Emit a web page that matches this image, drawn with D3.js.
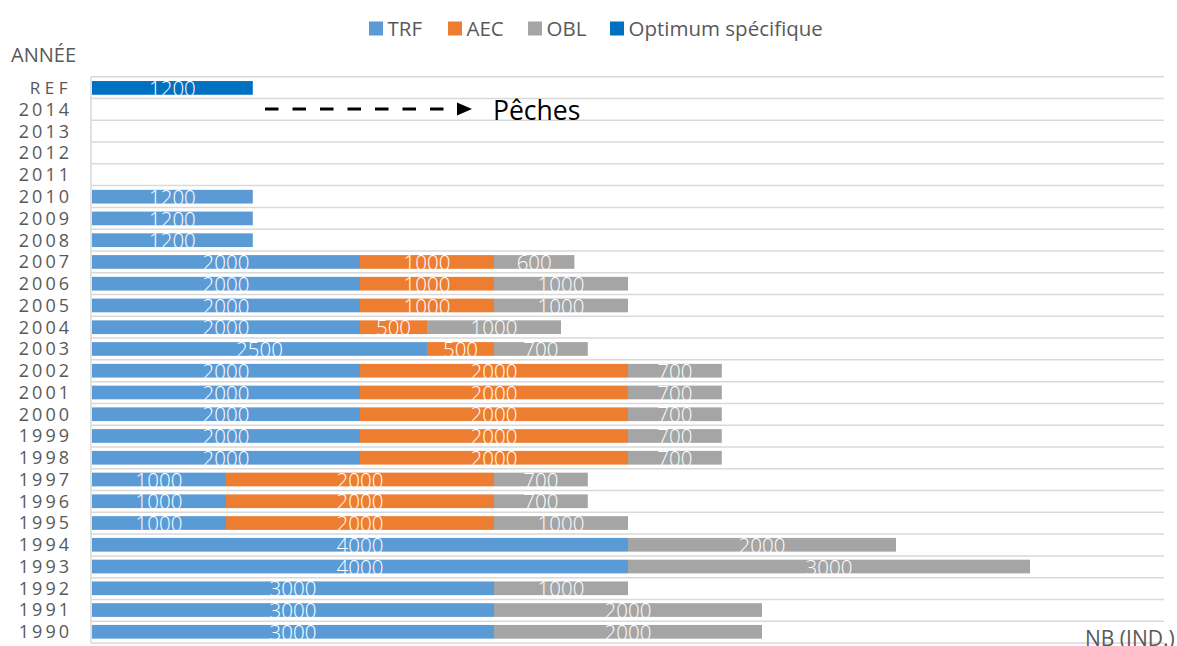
<!DOCTYPE html>
<html>
<head>
<meta charset="utf-8">
<script src="https://cdn.jsdelivr.net/npm/d3@7"></script>
<style>
  body { margin: 0; background: #fff; }
  svg text { font-family: 'Open Sans', 'Noto Sans', sans-serif; }
</style>
</head>
<body>
<div class="chart"></div>
<script>
// categories from top to bottom
var years = ['REF', '2014', '2013', '2012', '2011', '2010', '2009', '2008', '2007', '2006',
    '2005', '2004', '2003', '2002', '2001', '2000', '1999', '1998', '1997', '1996',
    '1995', '1994', '1993', '1992', '1991', '1990'];
// series values, same order as years
var trf = [0, 0, 0, 0, 0, 1200, 1200, 1200, 2000, 2000,
    2000, 2000, 2500, 2000, 2000, 2000, 2000, 2000, 1000, 1000,
    1000, 4000, 4000, 3000, 3000, 3000];
var aec = [0, 0, 0, 0, 0, 0, 0, 0, 1000, 1000,
    1000, 500, 500, 2000, 2000, 2000, 2000, 2000, 2000, 2000,
    2000, 0, 0, 0, 0, 0];
var obl = [0, 0, 0, 0, 0, 0, 0, 0, 600, 1000,
    1000, 1000, 700, 700, 700, 700, 700, 700, 700, 700,
    1000, 2000, 3000, 1000, 2000, 2000];
var optimum = [1200, 0, 0, 0, 0, 0, 0, 0, 0, 0,
    0, 0, 0, 0, 0, 0, 0, 0, 0, 0,
    0, 0, 0, 0, 0, 0];
var seriesNames = ['TRF', 'AEC', 'OBL', 'Optimum spécifique'];
var seriesKeys = ['trf', 'aec', 'obl', 'optimum'];
var seriesColors = ['#5B9BD5', '#ED7D31', '#A5A5A5', '#0070C0'];
var xMax = 8000;

var width = 1177;
var height = 646;
var plotLeft = 92;
var plotRight = 1164;
var plotTop = 76.7;
var plotBottom = 643;

// build rows for the stack
var rows = years.map(function(y, i) {
    return { year: y, trf: trf[i], aec: aec[i], obl: obl[i], optimum: optimum[i] };
});

var stacked = d3.stack().keys(seriesKeys)(rows);

var xScale = d3.scaleLinear()
    .domain([0, xMax])
    .range([plotLeft, plotRight]);

var yScale = d3.scaleBand()
    .domain(years)
    .range([plotTop, plotBottom])
    .paddingInner(0.37)
    .paddingOuter(0.2);

var svg = d3.select('.chart').append('svg')
    .attr('width', width)
    .attr('height', height);

// horizontal gridlines between categories
var bounds = d3.range(years.length + 1).map(function(i) {
    return plotTop + i * (plotBottom - plotTop) / years.length;
});
svg.append('g').selectAll('line')
    .data(bounds)
    .enter()
    .append('line')
    .attr('x1', plotLeft - 1)
    .attr('x2', plotRight)
    .attr('y1', function(d) { return d; })
    .attr('y2', function(d) { return d; })
    .attr('stroke', '#D9D9D9')
    .attr('stroke-width', 1.5);

// left axis line
svg.append('line')
    .attr('x1', plotLeft - 1)
    .attr('x2', plotLeft - 1)
    .attr('y1', plotTop)
    .attr('y2', plotBottom)
    .attr('stroke', '#D9D9D9')
    .attr('stroke-width', 1.5);

// bars
var layers = svg.append('g').selectAll('g')
    .data(stacked)
    .enter()
    .append('g')
    .attr('fill', function(d, i) { return seriesColors[i]; });

layers.selectAll('rect')
    .data(function(d) { return d.filter(function(s) { return s[1] > s[0]; }); })
    .enter()
    .append('rect')
    .attr('x', function(d) { return xScale(d[0]); })
    .attr('width', function(d) { return xScale(d[1]) - xScale(d[0]); })
    .attr('y', function(d) { return yScale(d.data.year); })
    .attr('height', yScale.bandwidth());

// value labels, white, sitting low in the bar
layers.selectAll('text')
    .data(function(d) { return d.filter(function(s) { return s[1] > s[0]; }); })
    .enter()
    .append('text')
    .attr('x', function(d) { return (xScale(d[0]) + xScale(d[1])) / 2; })
    .attr('y', function(d) { return yScale(d.data.year) + 15; })
    .attr('text-anchor', 'middle')
    .attr('fill', '#fff')
    .style('font-size', '20.5px')
    .style('font-weight', 300)
    .text(function(d) { return d[1] - d[0]; });

// y axis labels
var yAxis = d3.axisLeft(yScale).tickSize(0).tickPadding(0);
var yg = svg.append('g')
    .attr('transform', 'translate(72,0)')
    .call(yAxis);
yg.select('.domain').remove();
yg.selectAll('text')
    .attr('fill', '#595959')
    .style('font-size', '18px')
    .style('letter-spacing', '3px')
    .style('font-family', "'Open Sans', sans-serif")
    .attr('dy', '0.35em');
yg.selectAll('text').filter(function(d) { return d === 'REF'; })
    .style('font-size', '17px')
    .style('letter-spacing', '4.5px');

// axis titles
svg.append('text')
    .attr('x', 11)
    .attr('y', 62)
    .attr('fill', '#595959')
    .style('font-size', '20px')
    .text('ANNÉE');

svg.append('text')
    .attr('x', 1085)
    .attr('y', 646)
    .attr('fill', '#595959')
    .style('font-size', '21px')
    .text('NB (IND.)');

// legend
var legendX = [369, 448, 528, 610];
var legend = svg.append('g').selectAll('g')
    .data(seriesNames)
    .enter()
    .append('g')
    .attr('transform', function(d, i) { return 'translate(' + legendX[i] + ',21.5)'; });
legend.append('rect')
    .attr('width', 14)
    .attr('height', 14)
    .attr('fill', function(d, i) { return seriesColors[i]; });
legend.append('text')
    .attr('x', 18.5)
    .attr('y', 14.5)
    .attr('fill', '#595959')
    .style('font-size', '20.5px')
    .text(function(d) { return d; });

// dashed arrow with "Pêches"
svg.append('line')
    .attr('x1', 265)
    .attr('x2', 458)
    .attr('y1', 109)
    .attr('y2', 109)
    .attr('stroke', '#000')
    .attr('stroke-width', 3)
    .attr('stroke-dasharray', '13.5,14');
svg.append('path')
    .attr('d', 'M457,102.5 L472,109 L457,115.5 Z')
    .attr('fill', '#000');
svg.append('text')
    .attr('x', 493)
    .attr('y', 120)
    .attr('fill', '#000')
    .style('font-size', '26.5px')
    .text('Pêches');
</script>
</body>
</html>
